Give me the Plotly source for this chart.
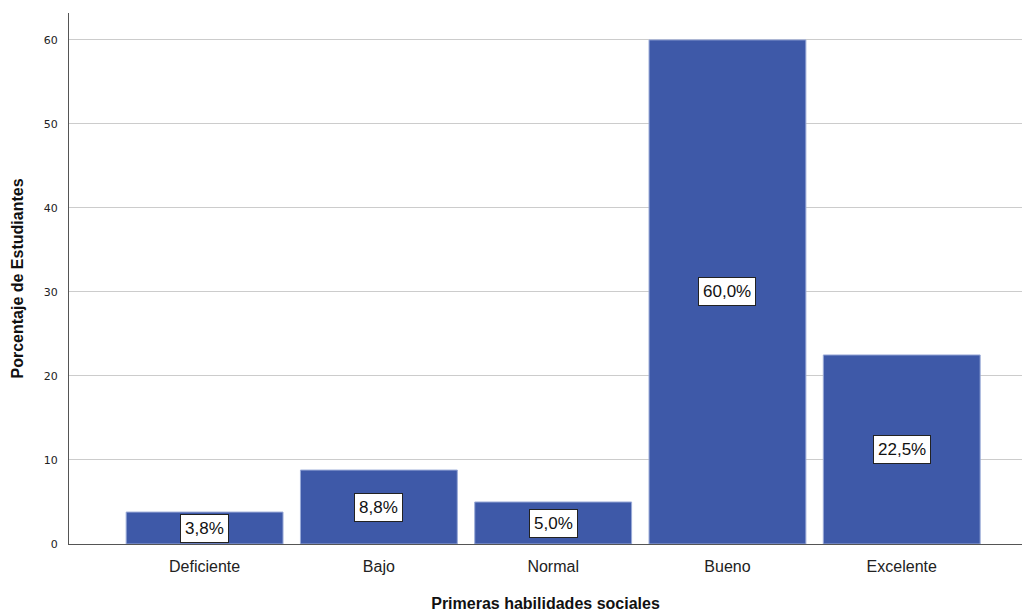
import plotly.graph_objects as go

categorias = ["Deficiente", "Bajo", "Normal", "Bueno", "Excelente"]
porcentajes = [3.8, 8.8, 5.0, 60.0, 22.5]
etiquetas = ["3,8%", "8,8%", "5,0%", "60,0%", "22,5%"]
y_ticks = [0, 10, 20, 30, 40, 50, 60]

fig = go.Figure()
fig.add_trace(go.Bar(
    x=list(range(len(categorias))),
    y=porcentajes,
    width=0.9,
    marker=dict(color="#3E59A8", line=dict(color="#9AAAD8", width=1)),
    hoverinfo="skip",
))

# Value labels in boxed frames at half bar height
for i, (v, t) in enumerate(zip(porcentajes, etiquetas)):
    fig.add_annotation(
        x=i, y=v / 2, text=t, showarrow=False,
        font=dict(family="Liberation Sans, Arial", size=17, color="#111111"),
        bgcolor="white", bordercolor="#222222", borderwidth=1, borderpad=4,
    )

fig.update_layout(
    width=1022, height=612,
    margin=dict(l=69, r=0, t=13, b=68),
    paper_bgcolor="white", plot_bgcolor="white",
    showlegend=False,
    bargap=0.1,
)
fig.update_xaxes(
    range=[-0.778, 4.69],
    tickmode="array",
    tickvals=list(range(len(categorias))),
    ticktext=categorias,
    tickfont=dict(family="Liberation Sans, Arial", size=16, color="#222222"),
    ticks="outside", ticklen=8, tickcolor="rgba(0,0,0,0)",
    showline=True, linecolor="#555555", linewidth=1,
    showgrid=False, zeroline=False,
    title=dict(text="<b>Primeras habilidades sociales</b>",
               font=dict(family="Liberation Sans, Arial", size=16, color="#111111"),
               standoff=24),
)
fig.update_yaxes(
    range=[0, 63.2],
    tickmode="array", tickvals=y_ticks,
    tickfont=dict(family="DejaVu Sans, Verdana", size=11, color="#222222"),
    ticks="outside", ticklen=8, tickcolor="rgba(0,0,0,0)",
    showline=True, linecolor="#555555", linewidth=1,
    showgrid=True, gridcolor="#CCCCCC", gridwidth=1,
    zeroline=False,
    title=dict(text="<b>Porcentaje de Estudiantes</b>",
               font=dict(family="Liberation Sans, Arial", size=16, color="#111111"),
               standoff=16),
)

fig.write_html("out.html")
